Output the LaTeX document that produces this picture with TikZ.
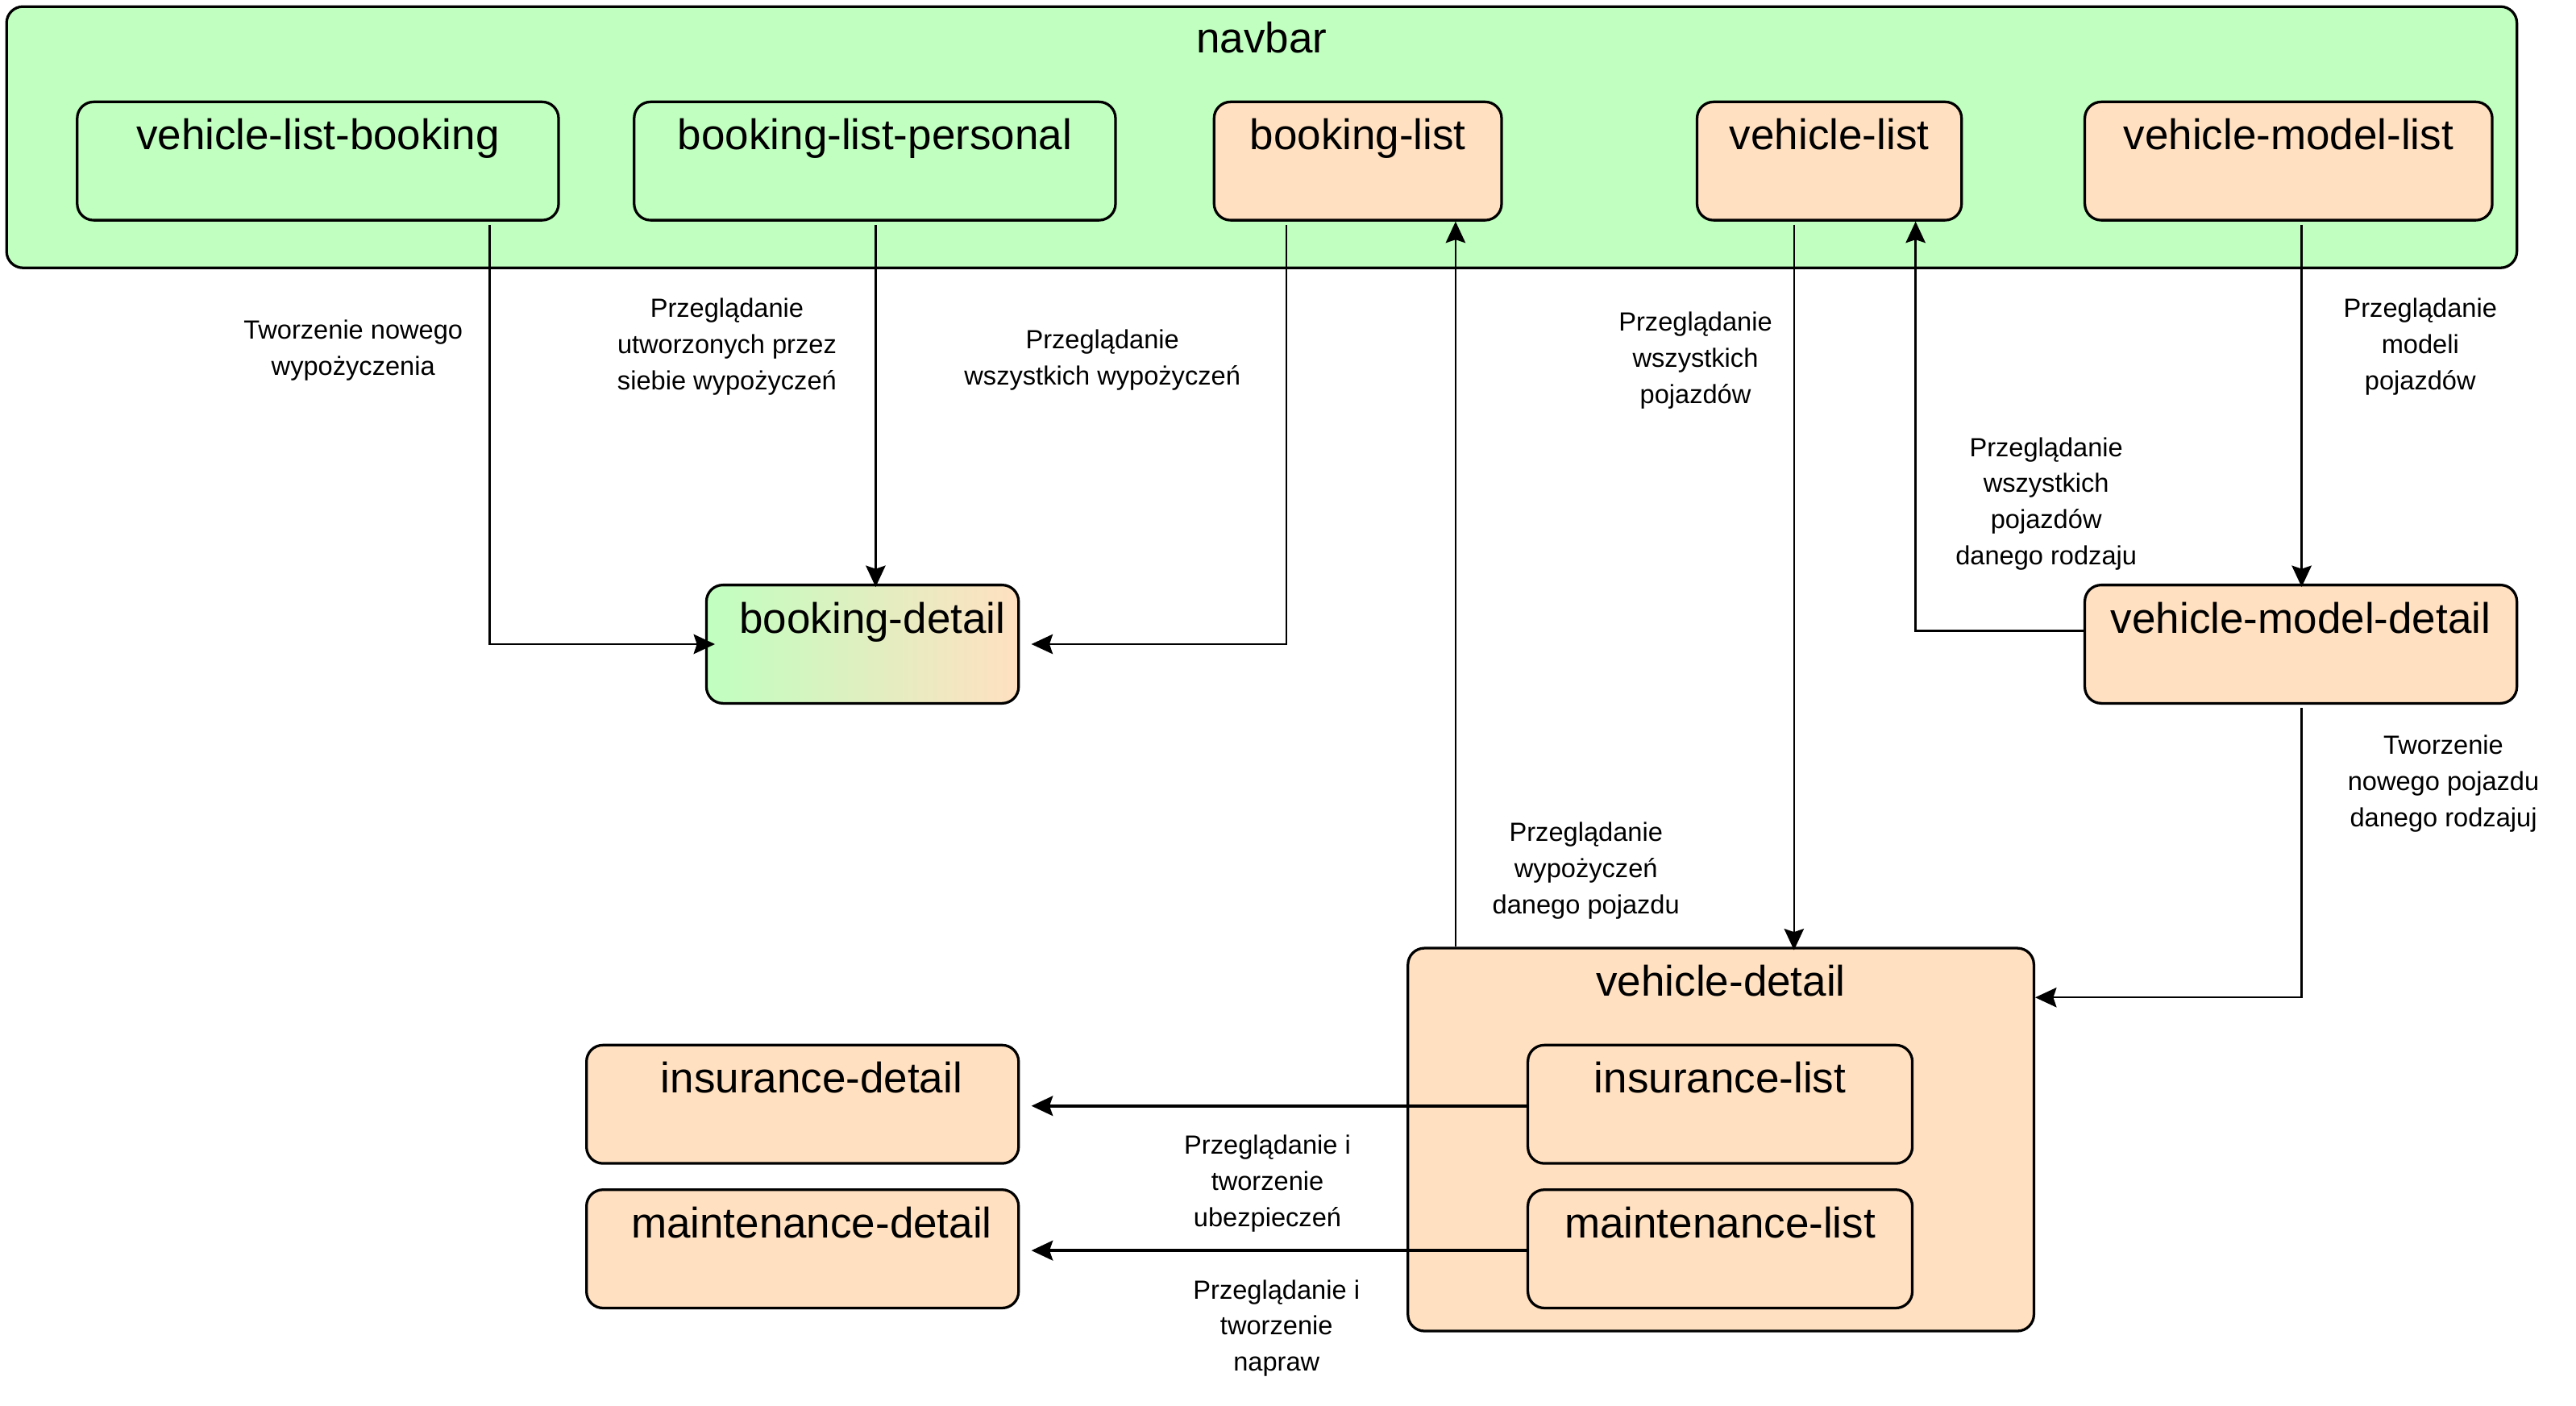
\documentclass[tikz,border=0pt]{standalone}
\usepackage{fontspec}
\setmainfont{Liberation Sans}
\usetikzlibrary{arrows.meta,calc}
\definecolor{ngreen}{RGB}{192,255,192}
\definecolor{npeach}{RGB}{255,224,192}
\begin{document}
\begin{tikzpicture}[x=1pt,y=-1pt,
  box/.style={draw=black, line width=1.6pt, rounded corners=10pt, minimum height=72pt, inner sep=0pt},
  gbox/.style={box, fill=ngreen},
  pbox/.style={box, fill=npeach},
  big/.style={font=\fontsize{26}{30}\selectfont, anchor=base, inner sep=0pt},
  lbl/.style={font=\fontsize{16}{22}\selectfont, align=center, inner sep=0pt},
  conn/.style={line width=1.2pt, -{Stealth[length=13pt,width=12pt,inset=2pt]}},
  connb/.style={conn, line width=2pt}]
\useasboundingbox (0,0) rectangle (1568,855.6);

% navbar
\node[gbox, minimum width=1528pt, minimum height=159pt] (nav) at (768,83.5) {};
\node[big] (navt) at ([yshift=-29pt]nav.north) {navbar};

% top row
\node[gbox, minimum width=293pt] (vlb) at (193.5,98) {};
\node[big] (vlbt) at ([yshift=-30pt]vlb.north) {vehicle-list-booking};
\node[gbox, minimum width=293pt] (blp) at (532.5,98) {};
\node[big] (blpt) at ([yshift=-30pt]blp.north) {booking-list-personal};
\node[pbox, minimum width=175pt] (bl) at (826.5,98) {};
\node[big] (blt) at ([yshift=-30pt]bl.north) {booking-list};
\node[pbox, minimum width=161pt] (vl) at (1113.5,98) {};
\node[big] (vlt) at ([yshift=-30pt]vl.north) {vehicle-list};
\node[pbox, minimum width=248pt] (vml) at (1393,98) {};
\node[big] (vmlt) at ([yshift=-30pt]vml.north) {vehicle-model-list};

% middle
\node[box, left color=ngreen, right color=npeach, minimum width=190pt] (bd) at (525,392) {};
\node[big] (bdt) at ([yshift=-30pt,xshift=6pt]bd.north) {booking-detail};
\node[pbox, minimum width=263pt] (vmd) at (1400.5,392) {};
\node[big] (vmdt) at ([yshift=-30pt]vmd.north) {vehicle-model-detail};

% bottom
\node[pbox, minimum width=381pt, minimum height=233pt] (vd) at (1047.5,693.5) {};
\node[big] (vdt) at ([yshift=-30pt]vd.north) {vehicle-detail};
\node[pbox, minimum width=234pt] (il) at (1047,672) {};
\node[big] (ilt) at ([yshift=-30pt]il.north) {insurance-list};
\node[pbox, minimum width=234pt] (ml) at (1047,760) {};
\node[big] (mlt) at ([yshift=-30pt]ml.north) {maintenance-list};
\node[pbox, minimum width=263pt] (id) at (488.5,672) {};
\node[big] (idt) at ([yshift=-30pt,xshift=5.5pt]id.north) {insurance-detail};
\node[pbox, minimum width=263pt] (md) at (488.5,760) {};
\node[big] (mdt) at ([yshift=-30pt,xshift=5.5pt]md.north) {maintenance-detail};

% connectors
\draw[conn, shorten >=-6pt] ([xshift=104.5pt,yshift=-2pt]vlb.south) |- (bd.west);
\draw[conn] ([xshift=0.5pt,yshift=-2pt]blp.south) -- ([xshift=0.5pt,yshift=-2pt]blp.south |- bd.north);
\draw[conn, shorten >=7pt] ([xshift=-43.5pt,yshift=-2pt]bl.south) |- (bd.east);
\draw[conn] ([xshift=-161.5pt]vd.north) -- ([xshift=-161.5pt]vd.north |- bl.south);
\draw[conn] ([xshift=-21.5pt,yshift=-2pt]vl.south) -- ([xshift=-21.5pt,yshift=-2pt]vl.south |- vd.north);
\draw[conn] ([yshift=8pt]vmd.west) -| ([xshift=52.5pt]vl.south);
\draw[conn] ([xshift=8pt,yshift=-2pt]vml.south) -- ([xshift=8pt,yshift=-2pt]vml.south |- vmd.north);
\draw[conn] ([xshift=0.5pt,yshift=-2pt]vmd.south) |- ([yshift=86.5pt]vd.east);
\draw[connb, shorten >=7pt] ([yshift=-1pt]il.west) -- ([yshift=-1pt]id.east);
\draw[connb, shorten >=7pt] ([yshift=-1pt]ml.west) -- ([yshift=-1pt]md.east);

% labels
\node[lbl] (l1) at (215,213) {Tworzenie nowego\\wypożyczenia};
\node[lbl] (l2) at (442.5,211) {Przeglądanie\\utworzonych przez\\siebie wypożyczeń};
\node[lbl] (l3) at (671,219) {Przeglądanie\\wszystkich wypożyczeń};
\node[lbl] (l4) at (965.4,530) {Przeglądanie\\wypożyczeń\\danego pojazdu};
\node[lbl] (l5) at (1032,219.5) {Przeglądanie\\wszystkich\\pojazdów};
\node[lbl] (l6) at (1245.5,306.6) {Przeglądanie\\wszystkich\\pojazdów\\danego rodzaju};
\node[lbl] (l7) at (1473.2,211) {Przeglądanie\\modeli\\pojazdów};
\node[lbl] (l8) at (1487.3,477) {Tworzenie\\nowego pojazdu\\danego rodzajuj};
\node[lbl] (l9) at (771.5,720.3) {Przeglądanie i\\tworzenie\\ubezpieczeń};
\node[lbl] (l10) at (777,808.3) {Przeglądanie i\\tworzenie\\napraw};
\end{tikzpicture}
\end{document}
